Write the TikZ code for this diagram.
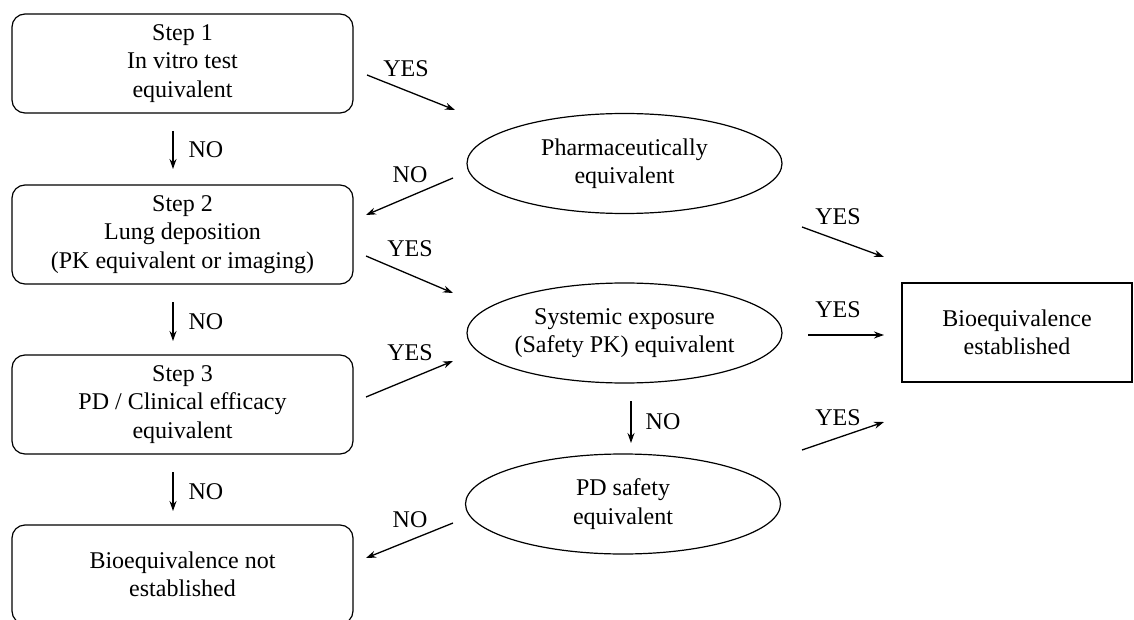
\documentclass[tikz,border=0pt]{standalone}
\usepackage{fontspec}
\setmainfont{Liberation Serif}
\usetikzlibrary{arrows.meta}
\usetikzlibrary{shapes.geometric}

\tikzset{
  stepbox/.style={draw, line width=1.2pt, rounded corners=13pt, minimum width=341pt, minimum height=99pt, align=center},
  decision/.style={draw, line width=1.2pt, ellipse, inner sep=0pt, minimum width=315pt, minimum height=100pt, align=center},
  endbox/.style={draw, line width=1.2pt, minimum width=230pt, minimum height=99pt, align=center},
  arr/.style={line width=1.3pt, -{Stealth[length=10pt,width=7pt]}},
  lbl/.style={inner sep=0pt}
}

\begin{document}
\begin{tikzpicture}[x=1pt, y=-1pt, font=\fontsize{24}{28.5}\selectfont]
    \useasboundingbox (0,0) rectangle (1134,620);
    \begin{scope}
    \clip (0,0) rectangle (1134,620);
    % left column
    \node[stepbox] (s1) at (182.5,63.5) {Step 1\\In vitro test\\equivalent};
    \node[stepbox] (s2) at (182.5,234.5) {Step 2\\Lung deposition\\(PK equivalent or imaging)};
    \node[stepbox] (s3) at (182.5,404.5) {Step 3\\PD / Clinical efficacy\\equivalent};
    \node[stepbox] (s4) at (182.5,574.5) {Bioequivalence not\\established};
    % middle column
    \node[decision] (e1) at (624.5,163.5) {Pharmaceutically\\equivalent};
    \node[decision] (e2) at (624.5,333) {Systemic exposure\\(Safety PK) equivalent};
    \node[decision] (e3) at (623,504) {PD safety\\equivalent};
    % right
    \node[endbox] (be) at (1017,332.5) {Bioequivalence\\established};
    \end{scope}

    % arrow ends
    \coordinate (a1) at (367,75);   \coordinate (b1) at (455,110);
    \coordinate (a2) at (173,131);  \coordinate (b2) at (173,169);
    \coordinate (a3) at (453,178);  \coordinate (b3) at (366,215);
    \coordinate (a4) at (366,256);  \coordinate (b4) at (453,293);
    \coordinate (a5) at (173,302);  \coordinate (b5) at (173,341);
    \coordinate (a6) at (366,397);  \coordinate (b6) at (453,361);
    \coordinate (a7) at (173,472);  \coordinate (b7) at (173,511);
    \coordinate (a8) at (453,523);  \coordinate (b8) at (366,558);
    \coordinate (a9) at (631,401);  \coordinate (b9) at (631,443);
    \coordinate (a10) at (802,227); \coordinate (b10) at (884,257);
    \coordinate (a11) at (808,335); \coordinate (b11) at (884,335);
    \coordinate (a12) at (802,450); \coordinate (b12) at (884,422);

    \draw[arr] (a1) -- (b1);   \node[lbl] (yes1) at (406,69) {YES};
    \draw[arr] (a2) -- (b2);   \node[lbl] (no1) at (206,150) {NO};
    \draw[arr] (a3) -- (b3);   \node[lbl] (no2) at (410,175) {NO};
    \draw[arr] (a4) -- (b4);   \node[lbl] (yes2) at (410,249) {YES};
    \draw[arr] (a5) -- (b5);   \node[lbl] (no3) at (206,322) {NO};
    \draw[arr] (a6) -- (b6);   \node[lbl] (yes3) at (410,353) {YES};
    \draw[arr] (a7) -- (b7);   \node[lbl] (no4) at (206,492) {NO};
    \draw[arr] (a8) -- (b8);   \node[lbl] (no5) at (410,520) {NO};
    \draw[arr] (a9) -- (b9);   \node[lbl] (no6) at (663,422) {NO};
    \draw[arr] (a10) -- (b10); \node[lbl] (yes4) at (838,217) {YES};
    \draw[arr] (a11) -- (b11); \node[lbl] (yes5) at (838,310) {YES};
    \draw[arr] (a12) -- (b12); \node[lbl] (yes6) at (838,418) {YES};
\end{tikzpicture}
\end{document}
